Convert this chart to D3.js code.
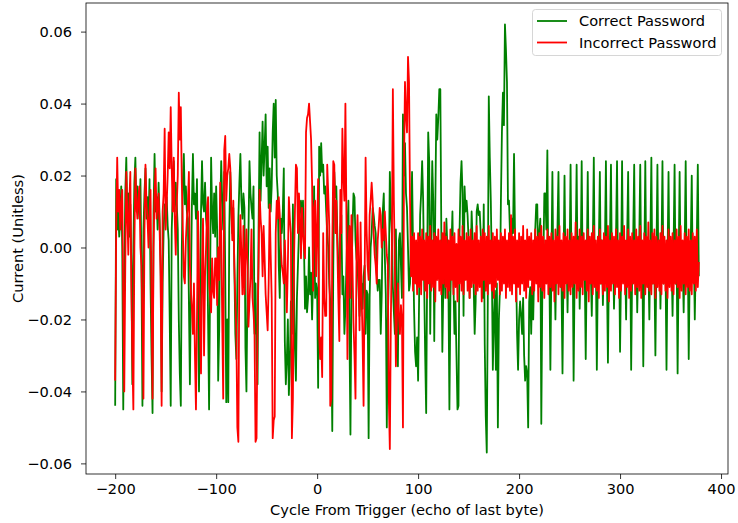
<!DOCTYPE html>
<html><head><meta charset="utf-8">
<script src="https://cdn.jsdelivr.net/npm/d3@7"></script>
<style>body{margin:0;background:#fff}svg{display:block}text{font-family:"DejaVu Sans",sans-serif}</style>
</head><body><svg id="c" width="738" height="523"></svg>
<script>
// Cycle offset of the first sample in each segment (1 sample per cycle)
const segStarts = [-200, -100, 0, 100, 200, 300];
// Values in thousandths (×0.001)
const greenA = [-44,19,5,10,3,8,17,0,-45,-10,
 15,25,8,15,3,12,-5,-38,0,18,
 25,10,17,12,8,19,-5,-44,5,15,
 22,8,14,6,19,-10,-30,-46,10,26,
 10,14,5,18,8,-5,-40,-10,5,12,
 8,14,6,2,-20,-44,5,15,24,10,
 18,12,5,-20,-35,-44,0,18,26,12,
 17,10,8,-15,-38,-10,12,26,12,15,
 8,19,-10,-40,-15,10,24,12,10,18,
 8,5,-20,-45,-10,25,10,4,15,3];
const greenB = [17,5,-37,-23,10,24,13,5,21,-8,
 -43,-20,-43,5,21,12,4,11,-5,-24,
 -31,-10,8,18,26,13,8,15,11,-28,
 -40,-12,4,24,15,11,8,17,-24,-10,
 -31,-38,5,32,13,24,35,20,28,37,
 17,28,11,22,10,17,32,40,25,41,
 20,15,-5,-14,8,4,10,22,-26,-38,
 -31,-20,-41,-33,-15,-24,12,-10,-28,-37,
 -14,-5,4,11,13,8,13,0,-17,-8,
 -18,-14,0,-13,-7,-20,-8,17,-14,-10];
const greenC = [-12,-39,28,20,29,21,23,15,17,10,
 4,0,-10,-15,-24,-51,-5,21,14,17,
 4,-5,-14,5,9,-13,-8,-24,-17,-5,
 5,13,-24,-52,-10,5,15,14,2,-3,
 -5,-12,-19,-13,-10,-17,-8,-5,-24,-12,
 -13,-53,-14,0,4,11,9,6,4,-7,
 -12,-9,-9,-24,-13,10,15,-2,-13,-50,
 -20,-8,21,10,4,-11,-18,-24,5,-15,
 -33,2,4,-5,-14,37,20,29,15,11,
 0,-12,-10,5,21,0,-17,-29,-33,-25];
const greenD = [-37,-14,9,15,24,13,-10,-30,-46,-5,
 32,24,-24,5,24,13,-26,11,37,30,
 36,44,44,4,-29,-10,4,-14,8,0,
 -10,-45,-14,0,10,-10,-24,-15,-30,-45,
 -44,4,18,24,15,-19,17,10,13,9,
 2,-14,-5,10,2,-10,-24,-15,10,12,
 9,10,4,-5,-14,12,-27,-47,-57,-15,
 42,25,13,-5,-34,-20,-12,-34,-10,-50,
 -20,-12,13,32,43,34,62,55,46,12,
 13,4,-7,8,4,26,3,-5,-24,-34];
const greenE = [-20,-15,-19,-24,-14,-30,-37,-33,-35,-50,
 -15,-11,-24,-10,-20,-5,5,12,12,-5,
 4,8,-49,-13,-5,15,15,5,27,-10,
 -8,-34,-5,21,-10,-3,-20,0,5,21,
 -8,-2,-10,-35,-6,20,-8,-2,-18,0,
 -4,23,-9,2,-37,-8,0,23,-10,3,
 -17,-4,24,-9,1,-6,-31,-5,21,-10,
 2,-6,-19,0,25,-9,-3,-34,-7,1,
 21,-10,2,-16,-3,0,24,-8,-32,-5,
 2,23,-9,0,-17,-4,3,24,-10,1];
const greenF = [-29,-6,24,-9,1,-3,-20,2,21,-10,
 0,-34,-6,3,23,-9,1,-18,-4,2,
 23,-10,-1,-33,-5,24,-8,2,-4,-20,
 1,25,-10,0,-6,-30,-3,23,-9,2,
 -17,-2,24,-10,1,-5,-34,-4,21,-9,
 2,-3,-19,0,23,-10,-2,-35,-5,21,
 -9,1,-4,-18,0,24,-10,2,-31,-6,
 1,20,-9,0,-20,-3,2,23,-8];
const redA = [-37,5,25,10,16,5,12,16,-15,-40,
 -5,21,10,-2,12,21,-10,-30,-45,0,
 22,12,8,14,17,0,-5,-20,-42,5,
 23,12,8,0,10,16,-15,-42,0,15,
 22,8,12,15,5,-8,-44,10,15,33,
 5,12,20,32,22,39,22,10,25,8,
 -2,12,20,43,30,39,18,5,-8,-10,
 2,8,12,21,-5,-12,-17,-24,-10,-30,
 -45,-20,10,-8,-22,-35,-5,8,-30,-8,
 0,11,14,-10,-14,-18,-3,-12,-14,-3];
const redB = [-3,-16,0,-9,18,4,-20,-42,27,31,
 13,20,22,26,22,10,2,13,-5,-15,
 -24,-50,-54,-5,9,-2,-13,6,-13,-3,
 5,-5,-22,-15,-8,5,-14,-18,-24,-54,
 -53,-20,-5,16,8,4,-8,6,-3,-13,
 -18,-23,-10,12,-2,-14,-53,-48,-47,4,
 13,8,14,9,0,-5,-7,-10,2,-8,
 -18,-5,14,8,4,-53,-42,-5,10,23,
 22,4,15,8,-3,11,4,0,-3,32,
 36,37,40,35,30,18,-12,11,13,-8];
const redC = [5,19,-24,-31,-25,-36,4,-14,-19,-19,
 23,15,6,-44,-42,0,24,23,4,13,
 0,-14,-26,16,4,33,20,13,40,9,
 -31,0,6,-14,9,-5,-21,-30,-42,-2,
 9,-5,-23,7,-13,-25,-44,-10,25,5,
 -5,-9,9,13,18,13,4,-2,-5,-10,
 2,6,11,9,0,5,2,10,4,-2,
 -5,-42,-56,-20,0,44,13,-5,-33,-20,
 -10,-19,-24,-16,-20,-50,22,46,37,32,
 53,46,13,-8,3,-12,4,-10,2,-13];
const redD = [4,-11,3,-13,5,-9,2,-12,4,-14,
 3,-10,6,-12,2,-11,4,-15,3,-9,
 5,-12,2,-13,4,-10,7,-11,3,-14,
 2,-12,5,-9,3,-13,4,-11,1,-15,
 5,-10,3,-12,6,-13,2,-9,4,-12,
 3,-14,5,-11,2,-10,4,-13,6,-12,
 2,-11,3,-15,5,-9,4,-12,3,-13,
 6,-10,2,-12,4,-14,3,-11,5,-9,
 2,-13,4,-12,3,-10,5,-14,2,-11,
 4,-12,9,-13,3,-10,5,-15,2,-11];
const redE = [4,-13,3,-10,6,-12,2,-14,5,-11,
 3,-9,4,-13,2,-12,5,-10,3,-15,
 4,-11,6,-12,3,-14,2,-10,5,-13,
 3,-11,4,-12,2,-15,5,-10,3,-13,
 6,-11,2,-12,4,-14,3,-10,5,-12,
 2,-13,4,-11,3,-10,7,-14,2,-12,
 5,-11,3,-13,4,-9,2,-12,5,-15,
 3,-10,4,-13,6,-11,2,-12,3,-14,
 5,-10,2,-13,4,-12,3,-11,6,-15,
 2,-12,4,-10,3,-13,5,-11,2,-14];
const redF = [4,-12,3,-10,6,-13,2,-11,5,-14,
 3,-12,4,-10,2,-13,5,-11,3,-12,
 6,-14,2,-10,4,-13,3,-11,7,-12,
 2,-13,4,-10,5,-14,3,-11,2,-12,
 4,-13,6,-10,3,-12,2,-14,5,-11,
 3,-12,4,-13,2,-10,5,-11,3,-14,
 6,-12,2,-10,4,-13,3,-11,5,-12,
 2,-13,4,-10,3,-12,5,-11,-4];
const xTicks = [-200, -100, 0, 100, 200, 300, 400];
const yTicks = [-0.06, -0.04, -0.02, 0, 0.02, 0.04, 0.06];
const seriesNames = ["Correct Password", "Incorrect Password"];
const seriesColors = ["green", "red"];
const xTitle = "Cycle From Trigger (echo of last byte)";
const yTitle = "Current (Unitless)";

function build(segs) {
  const pts = [];
  segs.forEach((s, k) => s.forEach((v, i) => pts.push([segStarts[k] + i, v / 1000])));
  return pts;
}
const green = build([greenA, greenB, greenC, greenD, greenE, greenF]);
const red = build([redA, redB, redC, redD, redE, redF]);
const all = green.concat(red);
const xe = d3.extent(all, d => d[0]), ye = d3.extent(all, d => d[1]);
const xm = (xe[1] - xe[0]) * 0.05, ym = (ye[1] - ye[0]) * 0.05;

const L = 86, R = 728, T = 3, B = 474;
const FS = "14.6px";
const x = d3.scaleLinear().domain([xe[0] - xm, xe[1] + xm]).range([L, R]);
const y = d3.scaleLinear().domain([ye[0] - ym, ye[1] + ym]).range([B, T]);
const svg = d3.select("#c");

const line = d3.line().x(d => x(d[0])).y(d => y(d[1]));
[green, red].forEach((s, i) => {
  svg.append("path").datum(s).attr("d", line).attr("fill", "none")
    .attr("stroke", seriesColors[i]).attr("stroke-width", 1.8)
    .attr("stroke-linejoin", "round");
});

const gx = svg.append("g").attr("transform", `translate(0,${B})`)
  .call(d3.axisBottom(x).tickValues(xTicks).tickSize(5).tickPadding(5).tickFormat(d3.format("d")));
const gy = svg.append("g").attr("transform", `translate(${L},0)`)
  .call(d3.axisLeft(y).tickValues(yTicks).tickSize(5).tickPadding(9).tickFormat(d3.format(".2f")));
[gx, gy].forEach(g => {
  g.select(".domain").remove();
  g.selectAll(".tick line").attr("stroke", "#000").attr("stroke-width", 0.8);
  g.selectAll(".tick text").attr("fill", "#000").style("font-size", FS).style("font-family", '"DejaVu Sans", sans-serif');
  g.attr("font-family", null).attr("font-size", null);
});

svg.append("rect").attr("x", L).attr("y", T).attr("width", R - L).attr("height", B - T)
  .attr("fill", "none").attr("stroke", "#000").attr("stroke-width", 0.8);

svg.append("text").attr("x", (L + R) / 2).attr("y", 515).attr("text-anchor", "middle")
  .style("font-size", FS).text(xTitle);
svg.append("text").attr("transform", `translate(23,${(T + B) / 2}) rotate(-90)`)
  .attr("text-anchor", "middle").style("font-size", FS).text(yTitle);

const lg = svg.append("g");
lg.append("rect").attr("x", 532.5).attr("y", 9.5).attr("width", 189).attr("height", 46)
  .attr("rx", 3).attr("fill", "#fff").attr("fill-opacity", 0.8).attr("stroke", "#ccc").attr("stroke-width", 0.8);
seriesNames.forEach((n, i) => {
  const yy = 21 + i * 21.5;
  lg.append("line").attr("x1", 537).attr("x2", 567).attr("y1", yy).attr("y2", yy)
    .attr("stroke", seriesColors[i]).attr("stroke-width", 1.8);
  lg.append("text").attr("x", 579).attr("y", yy).attr("dy", "0.35em").style("font-size", FS).text(n);
});
</script></body></html>
